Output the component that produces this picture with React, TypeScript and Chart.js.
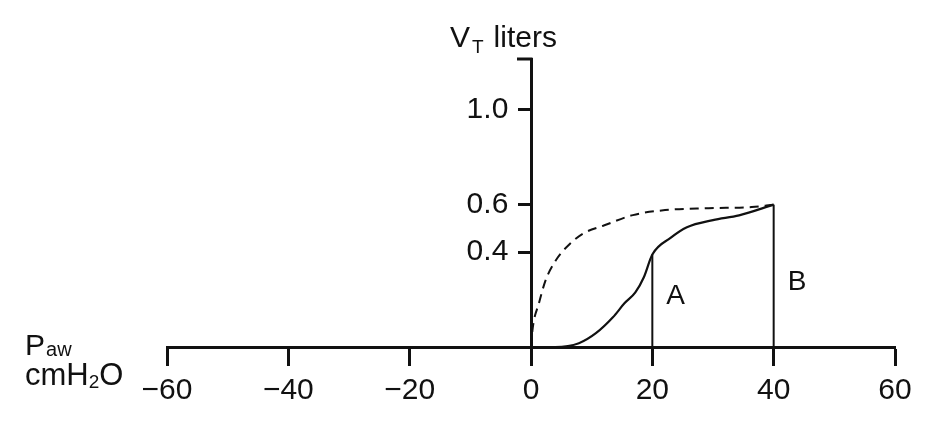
import React, { useEffect, useRef } from 'react';
import { Chart, registerables } from 'chart.js';

Chart.register(...registerables);

// Inspiratory limb (solid): airway pressure (cmH2O) vs tidal volume (L)
const inspPressure = [0, 4, 7.9, 10.7, 13.5, 15.4, 17.2, 18.6, 20, 23, 25.7, 30, 34.3, 40];
const inspVolume = [0, 0, 0.016, 0.058, 0.125, 0.184, 0.23, 0.294, 0.39, 0.46, 0.505, 0.535, 0.555, 0.6];

// Expiratory limb (dashed)
const expPressure = [0, 0.3, 1.3, 2.4, 4.1, 6.5, 8.7, 12.1, 16.8, 22.1, 29.3, 36.4, 40];
const expVolume = [0, 0.083, 0.184, 0.281, 0.366, 0.437, 0.48, 0.513, 0.556, 0.577, 0.585, 0.59, 0.6];

// Tick values and labels
const xTickValues = [-60, -40, -20, 0, 20, 40, 60];
const xTickLabels = ['\u221260', '\u221240', '\u221220', '0', '20', '40', '60'];
const yTickValues = [0.4, 0.6, 1.0];
const yTickLabels = ['0.4', '0.6', '1.0'];

// Vertical markers A and B
const markerLabels = ['A', 'B'];
const markerPressures = [20, 40];
const markerVolumes = [0.39, 0.6];
const markerLabelVolumes = [0.18, 0.24];

const xMin = -60;
const xMax = 60;
const yMin = 0;
const yMax = 1.214;

const FONT = '"Liberation Sans", Arial, Helvetica, sans-serif';
const INK = '#111';
const Y_LABEL_GAP = '  \u2009';

const textPlugin = {
  id: 'figText',
  afterDraw(chart: any) {
    const { ctx, chartArea, scales } = chart;
    const xs = scales.x;
    const ys = scales.y;
    const x0 = xs.getPixelForValue(0);
    const y0 = ys.getPixelForValue(0);
    ctx.save();
    ctx.fillStyle = INK;
    ctx.strokeStyle = INK;

    // cap at top of y axis
    ctx.lineWidth = 3;
    ctx.beginPath();
    ctx.moveTo(x0 - 14, chartArea.top);
    ctx.lineTo(x0 + 1.5, chartArea.top);
    ctx.stroke();

    ctx.textAlign = 'left';
    ctx.textBaseline = 'alphabetic';

    // V_T liters
    let tx = x0 - 81;
    const tb = chartArea.top - 12;
    ctx.font = `30px ${FONT}`;
    ctx.fillText('V', tx, tb);
    tx += ctx.measureText('V').width + 2;
    ctx.font = `19px ${FONT}`;
    ctx.fillText('T', tx, tb + 6);
    tx += ctx.measureText('T').width + 10;
    ctx.font = `30px ${FONT}`;
    ctx.fillText('liters', tx, tb);

    // P_aw / cmH2O
    let px = chartArea.left - 142;
    ctx.font = `30px ${FONT}`;
    ctx.fillText('P', px, y0 + 8);
    px += ctx.measureText('P').width + 1;
    ctx.font = `20px ${FONT}`;
    ctx.fillText('aw', px, y0 + 9);

    let cx = chartArea.left - 142;
    ctx.font = `31px ${FONT}`;
    ctx.fillText('cmH', cx, y0 + 38);
    cx += ctx.measureText('cmH').width;
    ctx.font = `19px ${FONT}`;
    ctx.fillText('2', cx, y0 + 41);
    cx += ctx.measureText('2').width;
    ctx.font = `31px ${FONT}`;
    ctx.fillText('O', cx, y0 + 38);

    // A / B labels
    ctx.font = `28px ${FONT}`;
    markerLabels.forEach((lab, i) => {
      const mx = xs.getPixelForValue(markerPressures[i]);
      const my = ys.getPixelForValue(markerLabelVolumes[i]);
      ctx.fillText(lab, mx + 14, my);
    });
    ctx.restore();
  },
};

export default function App() {
  const canvasRef = useRef<HTMLCanvasElement | null>(null);

  useEffect(() => {
    document.body.style.margin = '0';
    document.body.style.background = '#fff';
    const canvas = canvasRef.current;
    if (!canvas) return;

    const inspData = inspPressure.map((x, i) => ({ x, y: inspVolume[i] }));
    const expData = expPressure.map((x, i) => ({ x, y: expVolume[i] }));
    const markerSets = markerPressures.map((p, i) => ({
      data: [
        { x: p, y: 0 },
        { x: p, y: markerVolumes[i] },
      ],
      borderColor: INK,
      borderWidth: 2,
      pointRadius: 0,
      tension: 0,
    }));

    const chart = new Chart(canvas, {
      type: 'line',
      data: {
        datasets: [
          {
            data: expData,
            borderColor: INK,
            borderWidth: 2,
            borderDash: [9, 6],
            pointRadius: 0,
            cubicInterpolationMode: 'monotone',
          },
          {
            data: inspData,
            borderColor: INK,
            borderWidth: 2.2,
            pointRadius: 0,
            cubicInterpolationMode: 'monotone',
          },
          ...markerSets,
        ] as any,
      },
      options: {
        animation: false,
        responsive: false,
        events: [],
        layout: { padding: { left: 167, right: 39, top: 59, bottom: 74 } },
        plugins: {
          legend: { display: false },
          tooltip: { enabled: false },
        },
        scales: {
          x: {
            type: 'linear',
            min: xMin,
            max: xMax,
            position: { y: 0 } as any,
            afterBuildTicks: (scale: any) => {
              scale.ticks = xTickValues.map((v) => ({ value: v }));
            },
            ticks: {
              autoSkip: false,
              maxRotation: 0,
              color: INK,
              padding: 9,
              font: { family: FONT, size: 30 },
              callback: (v: any) => {
                const i = xTickValues.indexOf(Number(v));
                return i >= 0 ? xTickLabels[i] : '';
              },
            },
            grid: {
              drawOnChartArea: false,
              drawTicks: true,
              tickLength: 17,
              tickWidth: 3,
              tickColor: INK,
            },
            border: { display: true, color: INK, width: 3 },
          },
          y: {
            type: 'linear',
            min: yMin,
            max: yMax,
            position: { x: 0 } as any,
            afterBuildTicks: (scale: any) => {
              scale.ticks = yTickValues.map((v) => ({ value: v }));
            },
            ticks: {
              autoSkip: false,
              color: INK,
              padding: 8,
              font: { family: FONT, size: 30 },
              callback: (v: any) => {
                const i = yTickValues.indexOf(Number(v));
                return i >= 0 ? yTickLabels[i] + Y_LABEL_GAP : '';
              },
            },
            grid: {
              drawOnChartArea: false,
              drawTicks: true,
              tickLength: 12,
              tickWidth: 3,
              tickColor: INK,
            },
            border: { display: true, color: INK, width: 3 },
          },
        },
      },
      plugins: [textPlugin],
    });

    return () => chart.destroy();
  }, []);

  return (
    <div style={{ width: 934, height: 421, background: '#fff' }}>
      <canvas ref={canvasRef} width={934} height={421} />
    </div>
  );
}
